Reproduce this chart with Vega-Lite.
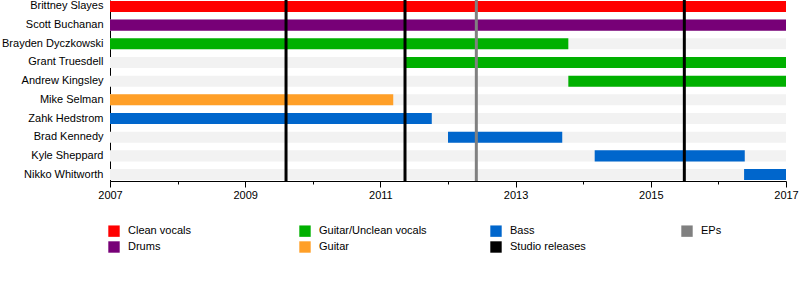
{
  "$schema": "https://vega.github.io/schema/vega-lite/v6.json",
  "autosize": "none",
  "width": 676,
  "height": 181,
  "padding": {"left": 110, "top": 0, "right": 14, "bottom": 119},
  "background": "white",
  "config": {
    "view": {"stroke": null},
    "font": "Liberation Sans",
    "axis": {"labelFont": "Liberation Sans", "labelFontSize": 11, "labelColor": "#000000", "domainColor": "#000000", "tickColor": "#000000", "grid": false}
  },
  "datasets": {
    "members": [
      {"name": "Brittney Slayes", "role": "Clean vocals", "start": 2007, "end": 2017},
      {"name": "Scott Buchanan", "role": "Drums", "start": 2007, "end": 2017},
      {"name": "Brayden Dyczkowski", "role": "Guitar/Unclean vocals", "start": 2007, "end": 2013.78},
      {"name": "Grant Truesdell", "role": "Guitar/Unclean vocals", "start": 2011.37, "end": 2017},
      {"name": "Andrew Kingsley", "role": "Guitar/Unclean vocals", "start": 2013.78, "end": 2017},
      {"name": "Mike Selman", "role": "Guitar", "start": 2007, "end": 2011.19},
      {"name": "Zahk Hedstrom", "role": "Bass", "start": 2007, "end": 2011.76},
      {"name": "Brad Kennedy", "role": "Bass", "start": 2012.0, "end": 2013.69},
      {"name": "Kyle Sheppard", "role": "Bass", "start": 2014.17, "end": 2016.39},
      {"name": "Nikko Whitworth", "role": "Bass", "start": 2016.38, "end": 2017}
    ],
    "releases": [
      {"type": "Studio releases", "date": 2009.604},
      {"type": "Studio releases", "date": 2011.364},
      {"type": "EPs", "date": 2012.419},
      {"type": "Studio releases", "date": 2015.496}
    ]
  },
  "layer": [
    {
      "data": {"name": "members"},
      "mark": {"type": "bar", "color": "#f2f2f2"},
      "encoding": {
        "y": {"field": "name", "type": "nominal",
          "sort": ["Brittney Slayes", "Scott Buchanan", "Brayden Dyczkowski", "Grant Truesdell", "Andrew Kingsley", "Mike Selman", "Zahk Hedstrom", "Brad Kennedy", "Kyle Sheppard", "Nikko Whitworth"],
          "scale": {"paddingInner": 0.41, "paddingOuter": 0.05},
          "axis": {"title": null, "ticks": false, "labelPadding": 7, "domainColor": "#000000"}},
        "x": {"datum": 2007, "type": "quantitative"},
        "x2": {"datum": 2017}
      }
    },
    {
      "data": {"name": "members"},
      "mark": {"type": "bar"},
      "encoding": {
        "y": {"field": "name", "type": "nominal",
          "sort": ["Brittney Slayes", "Scott Buchanan", "Brayden Dyczkowski", "Grant Truesdell", "Andrew Kingsley", "Mike Selman", "Zahk Hedstrom", "Brad Kennedy", "Kyle Sheppard", "Nikko Whitworth"]},
        "x": {"field": "start", "type": "quantitative",
          "scale": {"domain": [2007, 2017], "nice": false, "zero": false},
          "axis": {"title": null, "values": [2007, 2008, 2009, 2010, 2011, 2012, 2013, 2014, 2015, 2016, 2017], "format": "d",
            "labelExpr": "datum.value % 2 == 1 ? datum.label : ''", "labelFlush": false, "labelOverlap": false,
            "tickSize": {"condition": {"test": "datum.value % 2 == 1", "value": 6}, "value": 3},
            "labelPadding": 2}},
        "x2": {"field": "end"},
        "color": {"field": "role", "type": "nominal",
          "scale": {
            "domain": ["Clean vocals", "Guitar/Unclean vocals", "Bass", "EPs", "Drums", "Guitar", "Studio releases"],
            "range": ["#ff0000", "#00b000", "#0066cc", "#808080", "#770077", "#ff9f27", "#000000"]},
          "legend": {"title": null, "orient": "none", "legendX": -2, "legendY": 225, "direction": "horizontal", "columns": 4,
            "gridAlign": "all", "columnPadding": 63, "rowPadding": 4, "symbolType": "square", "symbolSize": 130,
            "symbolStrokeWidth": 0, "labelFontSize": 11, "labelFont": "Liberation Sans", "labelColor": "#000000", "labelOffset": 8,
            "encode": {"symbols": {"update": {"fill": {"scale": "color", "field": "value"}, "fillOpacity": {"value": 1}, "strokeWidth": {"value": 0}}}}}
        }
      }
    },
    {
      "data": {"name": "releases"},
      "mark": {"type": "rule", "strokeWidth": 3},
      "encoding": {
        "x": {"field": "date", "type": "quantitative"},
        "color": {"field": "type", "type": "nominal"}
      }
    }
  ]
}
